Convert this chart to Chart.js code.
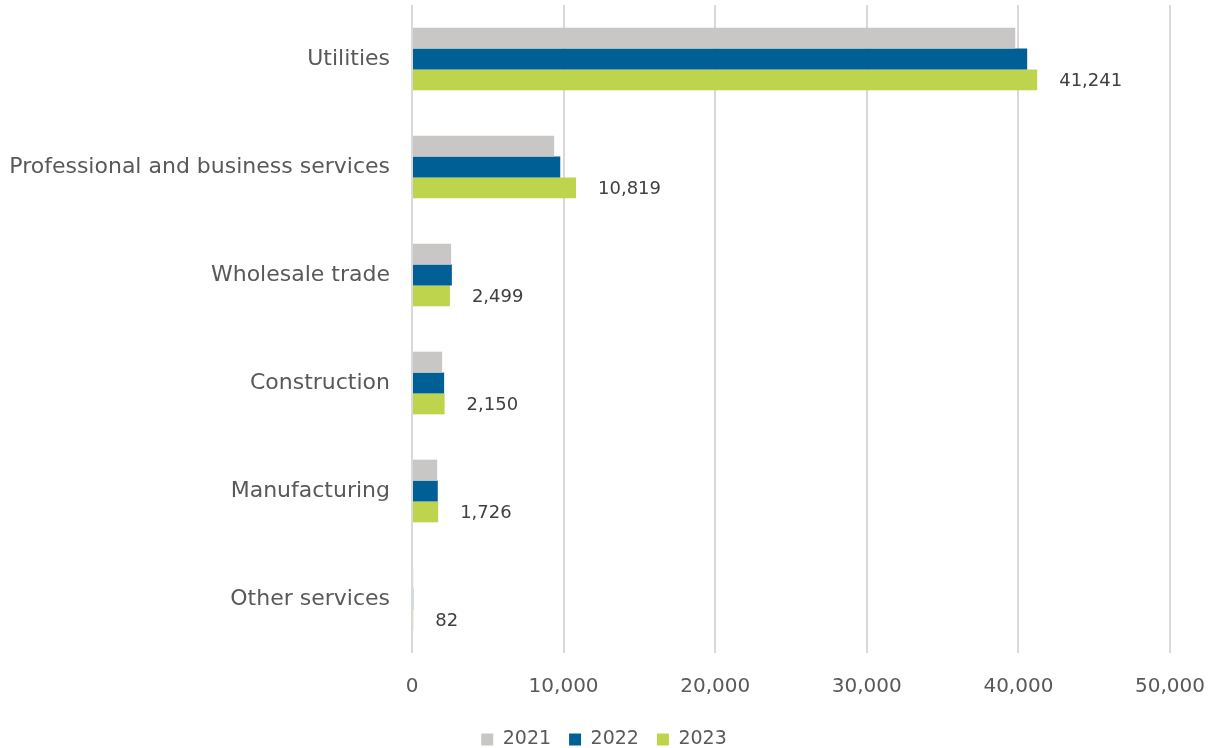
<!DOCTYPE html>
<html>
<head>
<meta charset="utf-8">
<script src="https://cdn.jsdelivr.net/npm/chart.js@4/dist/chart.umd.min.js"></script>
<style>
  html, body { margin: 0; padding: 0; background: #fff; }
  #wrap { width: 1208px; height: 748px; position: relative; }
</style>
</head>
<body>
<div id="wrap"><canvas id="chart"></canvas></div>
<script>
// categories and values
var categories = ["Utilities", "Professional and business services", "Wholesale trade", "Construction", "Manufacturing", "Other services"];
var years = ["2021", "2022", "2023"];
var values2021 = [39790, 9380, 2580, 1990, 1660, 80];
var values2022 = [40580, 9780, 2630, 2120, 1700, 80];
var values2023 = [41241, 10819, 2499, 2150, 1726, 82];
var xTicks = [0, 10000, 20000, 30000, 40000, 50000];

var colors = ["#c8c7c5", "#005f94", "#bed44c"];
var fontFamily = "'DejaVu Sans', sans-serif";

// labels only for the last series, drawn right of the bar
var valueLabels = {
  id: "valueLabels",
  afterDatasetsDraw: function (chart) {
    var ctx = chart.ctx;
    var meta = chart.getDatasetMeta(2);
    ctx.save();
    ctx.font = "18px " + fontFamily;
    ctx.fillStyle = "#404040";
    ctx.textAlign = "left";
    ctx.textBaseline = "middle";
    meta.data.forEach(function (bar, i) {
      var v = chart.data.datasets[2].data[i];
      ctx.fillText(v.toLocaleString("en-US"), bar.x + 22, bar.y + 1);
    });
    ctx.restore();
  }
};

var ctx = document.getElementById("chart").getContext("2d");
new Chart(ctx, {
  type: "bar",
  data: {
    labels: categories,
    datasets: [
      { label: years[0], data: values2021, backgroundColor: colors[0] },
      { label: years[1], data: values2022, backgroundColor: colors[1] },
      { label: years[2], data: values2023, backgroundColor: colors[2] }
    ]
  },
  options: {
    indexAxis: "y",
    responsive: true,
    maintainAspectRatio: false,
    animation: false,
    layout: { padding: { top: 5, right: 0, left: 0, bottom: -11 } },
    datasets: {
      bar: { barPercentage: 1, categoryPercentage: 0.58 }
    },
    scales: {
      x: {
        min: 0,
        max: 50000,
        afterBuildTicks: function (scale) {
          scale.ticks = xTicks.map(function (v) { return { value: v }; });
        },
        afterFit: function (scale) {
          scale.height = 59;
          scale.paddingLeft = 0;
          scale.paddingRight = 38;
        },
        grid: { color: "#d9d9d9", lineWidth: 2, drawTicks: false },
        border: { display: false },
        ticks: {
          padding: 22,
          maxRotation: 0,
          color: "#595959",
          font: { family: fontFamily, size: 20 },
          callback: function (v) { return Number(v).toLocaleString("en-US"); }
        }
      },
      y: {
        grid: { display: false, drawTicks: false },
        border: { display: false },
        afterFit: function (scale) {
          scale.width = 412;
          scale.paddingTop = 0;
          scale.paddingBottom = 0;
        },
        ticks: {
          padding: 22,
          color: "#595959",
          font: { family: fontFamily, size: 22 }
        }
      }
    },
    plugins: {
      legend: {
        display: true,
        position: "bottom",
        labels: {
          boxWidth: 12,
          boxHeight: 12,
          padding: 18,
          color: "#595959",
          font: { family: fontFamily, size: 19 }
        }
      },
      tooltip: { enabled: false }
    }
  },
  plugins: [valueLabels]
});
</script>
</body>
</html>
